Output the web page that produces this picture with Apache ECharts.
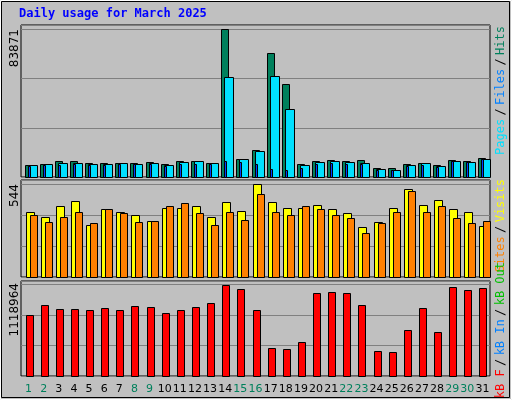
<!DOCTYPE html>
<html>
<head>
<meta charset="utf-8">
<script src="https://cdn.jsdelivr.net/npm/echarts@6/dist/echarts.min.js"></script>
<style>
html, body { margin: 0; padding: 0; background: #c0c0c0; }
#chart { width: 512px; height: 400px; }
</style>
</head>
<body>
<div id="chart"></div>
<script>
var days = ['1','2','3','4','5','6','7','8','9','10','11','12','13','14','15','16','17','18','19','20','21','22','23','24','25','26','27','28','29','30','31'];
var weekend = [1,2,8,9,15,16,22,23,29,30];

var hits = [7020,7590,8920,9300,8160,8160,8160,8160,8730,7590,9300,9300,8160,83871,10440,15560,70220,52570,7590,9300,9870,9300,9870,5310,5310,7590,8160,7020,9870,9300,11010];
var files = [7020,7590,8160,8160,7590,7590,8160,7590,8160,7020,8730,9300,8160,56560,10440,14990,57130,38340,7020,8730,9300,8730,8160,4745,4175,7020,8160,6450,9300,8730,10440];
var pages = [6450,7020,7020,7590,7020,7020,7590,7590,7590,6450,7590,7590,7590,9300,8730,7590,4745,4175,5310,7590,8160,7590,7590,4175,4175,6450,7020,5880,9300,8730,10440];

var visits = [378,352,417,446,307,395,378,364,329,401,401,417,352,440,389,544,440,405,405,423,395,372,290,319,401,514,423,452,395,378,301];
var sites = [364,321,352,382,313,395,372,319,329,413,431,372,307,382,335,483,382,360,417,399,360,343,260,313,382,501,382,413,343,313,325];

var kbF = [751400,873900,824900,824900,812700,837200,812700,861700,849500,776000,812700,849500,898500,1118964,1069900,812700,347200,334900,420700,1020900,1033100,1020900,873900,310400,298100,567700,837200,543200,1094400,1057700,1082200];

var hitsMax = 83871, visitsMax = 544, kbMax = 1118964;

function barItem(offset, width, color) {
    return function (params, api) {
        var base = api.coord([api.value(0), 0]);
        var top = api.coord([api.value(0), api.value(1)]);
        return {
            type: 'rect',
            shape: { x: Math.round(base[0] + offset) + 0.5, y: Math.round(top[1]) + 0.5, width: width, height: Math.round(base[1] - top[1]) },
            style: { fill: color, stroke: '#000', lineWidth: 1 }
        };
    };
}

function pairs(arr) {
    return arr.map(function (v, i) { return [i, v]; });
}

function barSeries(idx, arr, offset, width, color) {
    return {
        type: 'custom', xAxisIndex: idx, yAxisIndex: idx,
        renderItem: barItem(offset, width, color),
        data: pairs(arr), animation: false, silent: true
    };
}

var grids = [
    { left: 21, right: 22, top: 25, height: 152 },
    { left: 21, right: 22, top: 180, height: 97 },
    { left: 21, right: 22, top: 281, height: 95 }
];
var yMax = [hitsMax * 151.5 / 147.2, visitsMax * 96.7 / 92.7, kbMax * 95 / 91.3];
var yStep = [hitsMax / 3, visitsMax / 3, kbMax / 3];

var chart = echarts.init(document.getElementById('chart'));
chart.setOption({
    backgroundColor: '#c0c0c0',
    animation: false,
    grid: grids.map(function (g) {
        return Object.assign({ show: true, borderColor: '#000', borderWidth: 1, backgroundColor: '#c0c0c0' }, g);
    }),
    xAxis: [0, 1, 2].map(function (i) {
        return {
            type: 'category', gridIndex: i, data: days, boundaryGap: true,
            axisLine: { show: false }, axisTick: { show: false }, splitLine: { show: false },
            axisLabel: {
                show: i === 2, margin: 8, fontFamily: 'DejaVu Sans', fontSize: 11, interval: 0,
                color: function (v) { return weekend.indexOf(+v) >= 0 ? '#00805c' : '#000'; }
            }
        };
    }),
    yAxis: [0, 1, 2].map(function (i) {
        return {
            type: 'value', gridIndex: i, min: 0, max: yMax[i], interval: yStep[i],
            axisLine: { show: false }, axisTick: { show: false }, axisLabel: { show: false },
            splitLine: { show: true, lineStyle: { color: '#808080', width: 1 } }
        };
    }),
    series: [
        barSeries(0, hits, -4, 7, '#00805c'),
        barSeries(0, files, -1, 9, '#00e0ff'),
        barSeries(0, pages, -1, 2, '#0040ff'),
        barSeries(1, visits, -3, 8, '#ffff00'),
        barSeries(1, sites, 1, 7, '#ff8000'),
        barSeries(2, kbF, -3, 7, '#ff0000')
    ],
    graphic: [
        { type: 'rect', shape: { x: 0.5, y: 0.5, width: 511, height: 399 }, style: { fill: null, stroke: '#fff', lineWidth: 1 } },
        { type: 'rect', shape: { x: 1.5, y: 1.5, width: 508, height: 396 }, style: { fill: null, stroke: '#000', lineWidth: 1 } },
        { type: 'text', left: 19, top: 8, style: { text: 'Daily usage for March 2025', fill: '#0000ff', font: 'bold 12px "DejaVu Sans Mono"' } },
        { type: 'text', x: 15, y: 29, rotation: Math.PI / 2, style: { text: '83871', fill: '#000', font: '12px "DejaVu Sans"', align: 'right', verticalAlign: 'middle' } },
        { type: 'text', x: 15, y: 184, rotation: Math.PI / 2, style: { text: '544', fill: '#000', font: '12px "DejaVu Sans"', align: 'right', verticalAlign: 'middle' } },
        { type: 'text', x: 15, y: 283, rotation: Math.PI / 2, style: { text: '1118964', fill: '#000', font: '12px "DejaVu Sans"', align: 'right', verticalAlign: 'middle' } },
        { type: 'text', x: 501, y: 26, rotation: Math.PI / 2, style: {
            text: '{a|Pages} {s|/} {b|Files} {s|/} {c|Hits}', align: 'right', verticalAlign: 'middle',
            rich: { a: { fill: '#00e0ff', font: '12px "DejaVu Sans Mono"' }, b: { fill: '#0080ff', font: '12px "DejaVu Sans Mono"' }, c: { fill: '#00805c', font: '12px "DejaVu Sans Mono"' }, s: { fill: '#000', font: '12px "DejaVu Sans Mono"' } }
        } },
        { type: 'text', x: 501, y: 179, rotation: Math.PI / 2, style: {
            text: '{a|Sites} {s|/} {b|Visits}', align: 'right', verticalAlign: 'middle',
            rich: { a: { fill: '#ff8000', font: '12px "DejaVu Sans Mono"' }, b: { fill: '#ffff00', font: '12px "DejaVu Sans Mono"' }, s: { fill: '#000', font: '12px "DejaVu Sans Mono"' } }
        } },
        { type: 'text', x: 501, y: 262, rotation: Math.PI / 2, style: {
            text: '{a|kB F} {s|/} {b|kB In} {s|/} {c|kB Out}', align: 'right', verticalAlign: 'middle',
            rich: { a: { fill: '#ff0000', font: '12px "DejaVu Sans Mono"' }, b: { fill: '#0080ff', font: '12px "DejaVu Sans Mono"' }, c: { fill: '#00c000', font: '12px "DejaVu Sans Mono"' }, s: { fill: '#000', font: '12px "DejaVu Sans Mono"' } }
        } }
    ]
});
</script>
</body>
</html>
